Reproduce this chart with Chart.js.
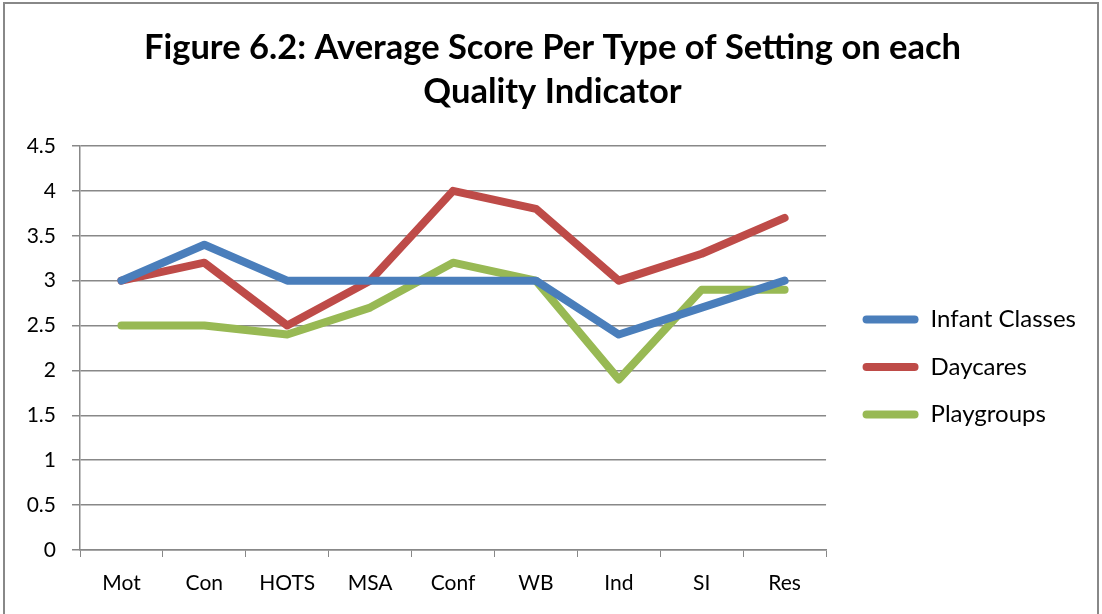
<!DOCTYPE html>
<html>
<head>
<meta charset="utf-8">
<script src="https://cdn.jsdelivr.net/npm/chart.js@4"></script>
<style>
  html, body { margin: 0; padding: 0; background: #fff; }
  #wrap { position: absolute; left: 0; top: 0; width: 1102px; height: 614px; }
  #frame { position: absolute; left: 3px; top: 2px; width: 1096px; height: 640px; border: 2px solid #888; box-sizing: border-box; pointer-events: none; }
</style>
</head>
<body>
<div id="wrap"><canvas id="grafico"></canvas></div>
<div id="frame"></div>
<script>
const categorias = ["Mot", "Con", "HOTS", "MSA", "Conf", "WB", "Ind", "SI", "Res"];
const infantClasses = [3, 3.4, 3, 3, 3, 3, 2.4, 2.7, 3];
const daycares = [3, 3.2, 2.5, 3, 4, 3.8, 3, 3.3, 3.7];
const playgroups = [2.5, 2.5, 2.4, 2.7, 3.2, 3, 1.9, 2.9, 2.9];

const fuente = "Lato, 'Open Sans', sans-serif";
const gris = "#888888";

function serie(label, data, color) {
  return {
    label: label,
    data: data,
    borderColor: color,
    backgroundColor: color,
    borderWidth: 8,
    borderCapStyle: "round",
    borderJoinStyle: "round",
    pointRadius: 0,
    tension: 0,
    fill: false,
  };
}

// mueve la leyenda y el titulo a su sitio (como en Excel)
const ajustarCajas = {
  id: "ajustarCajas",
  afterLayout(chart) {
    const l = chart.legend;
    l.left += 13;
    l.right += 13;
    l.top += 60;
    l.bottom += 60;
    const t = chart.titleBlock;
    t.left += 12;
    t.right += 12;
  },
};

const ctx = document.getElementById("grafico");

const grafico = new Chart(ctx, {
  type: "line",
  data: {
    labels: categorias,
    datasets: [
      serie("Infant Classes", infantClasses, "#4a7ebb"),
      serie("Daycares", daycares, "#be4b48"),
      serie("Playgroups", playgroups, "#98b954"),
    ],
  },
  plugins: [ajustarCajas],
  options: {
    responsive: true,
    maintainAspectRatio: false,
    animation: false,
    layout: { padding: { left: 8, right: 29, top: 0, bottom: 0 } },
    plugins: {
      title: {
        display: true,
        text: ["Figure 6.2: Average Score Per Type of Setting on each", "Quality Indicator"],
        color: "#000",
        font: { family: fuente, size: 34.5, weight: "bold", lineHeight: "44px" },
        padding: { top: 26, bottom: 32 },
      },
      legend: {
        position: "right",
        labels: {
          color: "#000",
          font: { family: fuente, size: 24 },
          boxWidth: 56,
          boxHeight: 8,
          useBorderRadius: true,
          borderRadius: 4,
          padding: 23.5,
          generateLabels: (chart) =>
            Chart.defaults.plugins.legend.labels.generateLabels(chart).map((l) => ({ ...l, lineWidth: 0 })),
        },
      },
      tooltip: { enabled: false },
    },
    scales: {
      x: {
        offset: true,
        grid: { display: true, drawOnChartArea: false, drawTicks: true, tickLength: 7, color: gris, offset: true },
        border: { display: true, color: gris, width: 1.5 },
        ticks: { color: "#000", font: { family: fuente, size: 21 }, padding: 14, maxRotation: 0 },
        afterFit: (s) => { s.height = 64; },
      },
      y: {
        min: 0,
        max: 4.5,
        grid: { color: gris, lineWidth: 1.5, tickLength: 8 },
        border: { display: true, color: gris, width: 1.5 },
        ticks: {
          stepSize: 0.5,
          color: "#000",
          font: { family: fuente, size: 21 },
          padding: 16,
          callback: (v) => String(v),
        },
        afterFit: (s) => { s.width = 72; },
      },
    },
  },
});
</script>
</body>
</html>
